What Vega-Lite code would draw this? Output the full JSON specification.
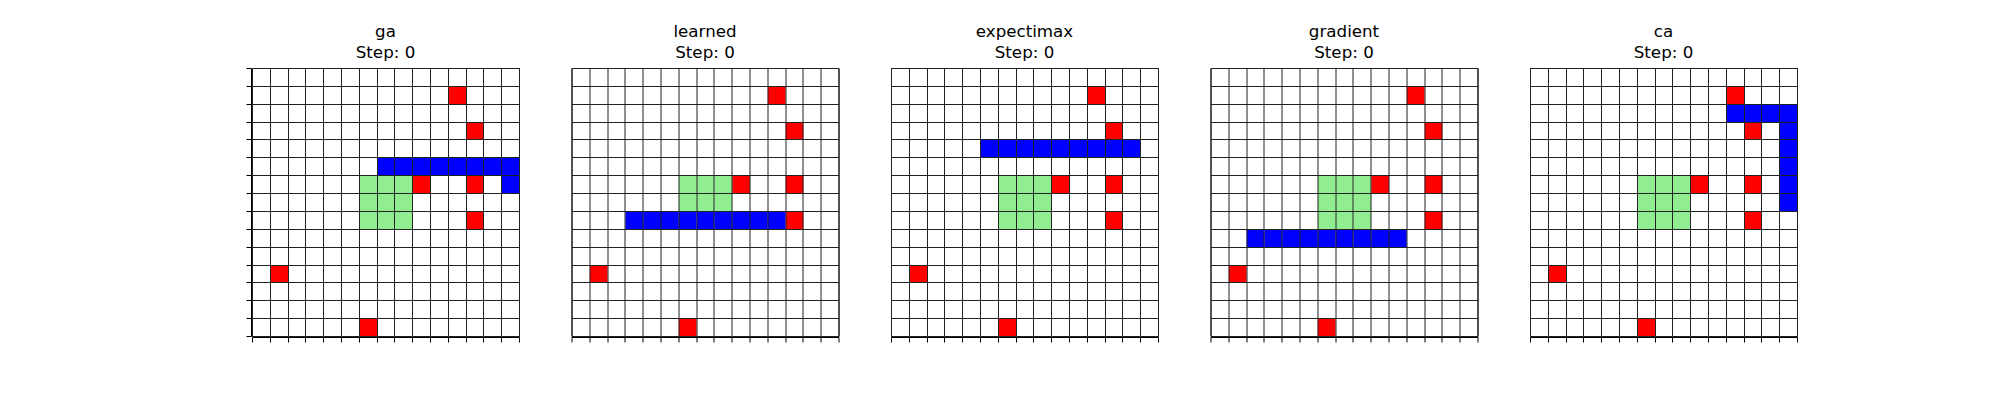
{
  "$schema": "https://vega.github.io/schema/vega-lite/v6.json",
  "padding": {"left": 245, "top": 24, "right": 5, "bottom": 5},
  "background": "white",
  "data": {
    "values": [
      {"panel": "ga", "col": 11, "row": 1, "kind": "obstacle"},
      {"panel": "ga", "col": 12, "row": 3, "kind": "obstacle"},
      {"panel": "ga", "col": 9, "row": 6, "kind": "obstacle"},
      {"panel": "ga", "col": 12, "row": 6, "kind": "obstacle"},
      {"panel": "ga", "col": 12, "row": 8, "kind": "obstacle"},
      {"panel": "ga", "col": 1, "row": 11, "kind": "obstacle"},
      {"panel": "ga", "col": 6, "row": 14, "kind": "obstacle"},
      {"panel": "ga", "col": 6, "row": 6, "kind": "goal"},
      {"panel": "ga", "col": 7, "row": 6, "kind": "goal"},
      {"panel": "ga", "col": 8, "row": 6, "kind": "goal"},
      {"panel": "ga", "col": 6, "row": 7, "kind": "goal"},
      {"panel": "ga", "col": 7, "row": 7, "kind": "goal"},
      {"panel": "ga", "col": 8, "row": 7, "kind": "goal"},
      {"panel": "ga", "col": 6, "row": 8, "kind": "goal"},
      {"panel": "ga", "col": 7, "row": 8, "kind": "goal"},
      {"panel": "ga", "col": 8, "row": 8, "kind": "goal"},
      {"panel": "ga", "col": 7, "row": 5, "kind": "agent"},
      {"panel": "ga", "col": 8, "row": 5, "kind": "agent"},
      {"panel": "ga", "col": 9, "row": 5, "kind": "agent"},
      {"panel": "ga", "col": 10, "row": 5, "kind": "agent"},
      {"panel": "ga", "col": 11, "row": 5, "kind": "agent"},
      {"panel": "ga", "col": 12, "row": 5, "kind": "agent"},
      {"panel": "ga", "col": 13, "row": 5, "kind": "agent"},
      {"panel": "ga", "col": 14, "row": 5, "kind": "agent"},
      {"panel": "ga", "col": 14, "row": 6, "kind": "agent"},

      {"panel": "learned", "col": 11, "row": 1, "kind": "obstacle"},
      {"panel": "learned", "col": 12, "row": 3, "kind": "obstacle"},
      {"panel": "learned", "col": 9, "row": 6, "kind": "obstacle"},
      {"panel": "learned", "col": 12, "row": 6, "kind": "obstacle"},
      {"panel": "learned", "col": 12, "row": 8, "kind": "obstacle"},
      {"panel": "learned", "col": 1, "row": 11, "kind": "obstacle"},
      {"panel": "learned", "col": 6, "row": 14, "kind": "obstacle"},
      {"panel": "learned", "col": 6, "row": 6, "kind": "goal"},
      {"panel": "learned", "col": 7, "row": 6, "kind": "goal"},
      {"panel": "learned", "col": 8, "row": 6, "kind": "goal"},
      {"panel": "learned", "col": 6, "row": 7, "kind": "goal"},
      {"panel": "learned", "col": 7, "row": 7, "kind": "goal"},
      {"panel": "learned", "col": 8, "row": 7, "kind": "goal"},
      {"panel": "learned", "col": 3, "row": 8, "kind": "agent"},
      {"panel": "learned", "col": 4, "row": 8, "kind": "agent"},
      {"panel": "learned", "col": 5, "row": 8, "kind": "agent"},
      {"panel": "learned", "col": 6, "row": 8, "kind": "agent"},
      {"panel": "learned", "col": 7, "row": 8, "kind": "agent"},
      {"panel": "learned", "col": 8, "row": 8, "kind": "agent"},
      {"panel": "learned", "col": 9, "row": 8, "kind": "agent"},
      {"panel": "learned", "col": 10, "row": 8, "kind": "agent"},
      {"panel": "learned", "col": 11, "row": 8, "kind": "agent"},

      {"panel": "expectimax", "col": 11, "row": 1, "kind": "obstacle"},
      {"panel": "expectimax", "col": 12, "row": 3, "kind": "obstacle"},
      {"panel": "expectimax", "col": 9, "row": 6, "kind": "obstacle"},
      {"panel": "expectimax", "col": 12, "row": 6, "kind": "obstacle"},
      {"panel": "expectimax", "col": 12, "row": 8, "kind": "obstacle"},
      {"panel": "expectimax", "col": 1, "row": 11, "kind": "obstacle"},
      {"panel": "expectimax", "col": 6, "row": 14, "kind": "obstacle"},
      {"panel": "expectimax", "col": 6, "row": 6, "kind": "goal"},
      {"panel": "expectimax", "col": 7, "row": 6, "kind": "goal"},
      {"panel": "expectimax", "col": 8, "row": 6, "kind": "goal"},
      {"panel": "expectimax", "col": 6, "row": 7, "kind": "goal"},
      {"panel": "expectimax", "col": 7, "row": 7, "kind": "goal"},
      {"panel": "expectimax", "col": 8, "row": 7, "kind": "goal"},
      {"panel": "expectimax", "col": 6, "row": 8, "kind": "goal"},
      {"panel": "expectimax", "col": 7, "row": 8, "kind": "goal"},
      {"panel": "expectimax", "col": 8, "row": 8, "kind": "goal"},
      {"panel": "expectimax", "col": 5, "row": 4, "kind": "agent"},
      {"panel": "expectimax", "col": 6, "row": 4, "kind": "agent"},
      {"panel": "expectimax", "col": 7, "row": 4, "kind": "agent"},
      {"panel": "expectimax", "col": 8, "row": 4, "kind": "agent"},
      {"panel": "expectimax", "col": 9, "row": 4, "kind": "agent"},
      {"panel": "expectimax", "col": 10, "row": 4, "kind": "agent"},
      {"panel": "expectimax", "col": 11, "row": 4, "kind": "agent"},
      {"panel": "expectimax", "col": 12, "row": 4, "kind": "agent"},
      {"panel": "expectimax", "col": 13, "row": 4, "kind": "agent"},

      {"panel": "gradient", "col": 11, "row": 1, "kind": "obstacle"},
      {"panel": "gradient", "col": 12, "row": 3, "kind": "obstacle"},
      {"panel": "gradient", "col": 9, "row": 6, "kind": "obstacle"},
      {"panel": "gradient", "col": 12, "row": 6, "kind": "obstacle"},
      {"panel": "gradient", "col": 12, "row": 8, "kind": "obstacle"},
      {"panel": "gradient", "col": 1, "row": 11, "kind": "obstacle"},
      {"panel": "gradient", "col": 6, "row": 14, "kind": "obstacle"},
      {"panel": "gradient", "col": 6, "row": 6, "kind": "goal"},
      {"panel": "gradient", "col": 7, "row": 6, "kind": "goal"},
      {"panel": "gradient", "col": 8, "row": 6, "kind": "goal"},
      {"panel": "gradient", "col": 6, "row": 7, "kind": "goal"},
      {"panel": "gradient", "col": 7, "row": 7, "kind": "goal"},
      {"panel": "gradient", "col": 8, "row": 7, "kind": "goal"},
      {"panel": "gradient", "col": 6, "row": 8, "kind": "goal"},
      {"panel": "gradient", "col": 7, "row": 8, "kind": "goal"},
      {"panel": "gradient", "col": 8, "row": 8, "kind": "goal"},
      {"panel": "gradient", "col": 2, "row": 9, "kind": "agent"},
      {"panel": "gradient", "col": 3, "row": 9, "kind": "agent"},
      {"panel": "gradient", "col": 4, "row": 9, "kind": "agent"},
      {"panel": "gradient", "col": 5, "row": 9, "kind": "agent"},
      {"panel": "gradient", "col": 6, "row": 9, "kind": "agent"},
      {"panel": "gradient", "col": 7, "row": 9, "kind": "agent"},
      {"panel": "gradient", "col": 8, "row": 9, "kind": "agent"},
      {"panel": "gradient", "col": 9, "row": 9, "kind": "agent"},
      {"panel": "gradient", "col": 10, "row": 9, "kind": "agent"},

      {"panel": "ca", "col": 11, "row": 1, "kind": "obstacle"},
      {"panel": "ca", "col": 12, "row": 3, "kind": "obstacle"},
      {"panel": "ca", "col": 9, "row": 6, "kind": "obstacle"},
      {"panel": "ca", "col": 12, "row": 6, "kind": "obstacle"},
      {"panel": "ca", "col": 12, "row": 8, "kind": "obstacle"},
      {"panel": "ca", "col": 1, "row": 11, "kind": "obstacle"},
      {"panel": "ca", "col": 6, "row": 14, "kind": "obstacle"},
      {"panel": "ca", "col": 6, "row": 6, "kind": "goal"},
      {"panel": "ca", "col": 7, "row": 6, "kind": "goal"},
      {"panel": "ca", "col": 8, "row": 6, "kind": "goal"},
      {"panel": "ca", "col": 6, "row": 7, "kind": "goal"},
      {"panel": "ca", "col": 7, "row": 7, "kind": "goal"},
      {"panel": "ca", "col": 8, "row": 7, "kind": "goal"},
      {"panel": "ca", "col": 6, "row": 8, "kind": "goal"},
      {"panel": "ca", "col": 7, "row": 8, "kind": "goal"},
      {"panel": "ca", "col": 8, "row": 8, "kind": "goal"},
      {"panel": "ca", "col": 11, "row": 2, "kind": "agent"},
      {"panel": "ca", "col": 12, "row": 2, "kind": "agent"},
      {"panel": "ca", "col": 13, "row": 2, "kind": "agent"},
      {"panel": "ca", "col": 14, "row": 2, "kind": "agent"},
      {"panel": "ca", "col": 14, "row": 3, "kind": "agent"},
      {"panel": "ca", "col": 14, "row": 4, "kind": "agent"},
      {"panel": "ca", "col": 14, "row": 5, "kind": "agent"},
      {"panel": "ca", "col": 14, "row": 6, "kind": "agent"},
      {"panel": "ca", "col": 14, "row": 7, "kind": "agent"}
    ]
  },
  "facet": {
    "column": {
      "field": "panel",
      "type": "nominal",
      "sort": ["ga", "learned", "expectimax", "gradient", "ca"],
      "title": null,
      "header": {
        "labelExpr": "[datum.value, 'Step: 0']",
        "labelFont": "DejaVu Sans",
        "labelFontSize": 16.7,
        "labelColor": "black",
        "labelLineHeight": 21,
        "labelPadding": 5
      }
    }
  },
  "spacing": 50.5,
  "spec": {
    "width": 267,
    "height": 268,
    "mark": {"type": "rect"},
    "encoding": {
      "x": {
        "field": "col",
        "type": "quantitative",
        "bin": {"binned": true, "step": 1},
        "scale": {"domain": [0, 15]},
        "axis": {
          "values": [0, 1, 2, 3, 4, 5, 6, 7, 8, 9, 10, 11, 12, 13, 14, 15],
          "labels": false,
          "title": null,
          "ticks": true,
          "tickSize": 5,
          "tickColor": "black",
          "domainColor": "black",
          "grid": true,
          "gridColor": "#222222",
          "gridOpacity": 1,
          "gridWidth": 1,
          "zindex": 1
        }
      },
      "y": {
        "field": "row",
        "type": "quantitative",
        "bin": {"binned": true, "step": 1},
        "scale": {"domain": [0, 15], "reverse": true},
        "axis": {
          "values": [0, 1, 2, 3, 4, 5, 6, 7, 8, 9, 10, 11, 12, 13, 14, 15],
          "labels": false,
          "title": null,
          "ticks": true,
          "tickSize": 5,
          "tickColor": "black",
          "domainColor": "black",
          "grid": true,
          "gridColor": "#222222",
          "gridOpacity": 1,
          "gridWidth": 1,
          "zindex": 1
        }
      },
      "color": {
        "field": "kind",
        "type": "nominal",
        "scale": {
          "domain": ["obstacle", "goal", "agent"],
          "range": ["#ff0000", "#90ee90", "#0000ff"]
        },
        "legend": null
      }
    }
  },
  "config": {
    "view": {"stroke": "black", "strokeWidth": 1}
  }
}
